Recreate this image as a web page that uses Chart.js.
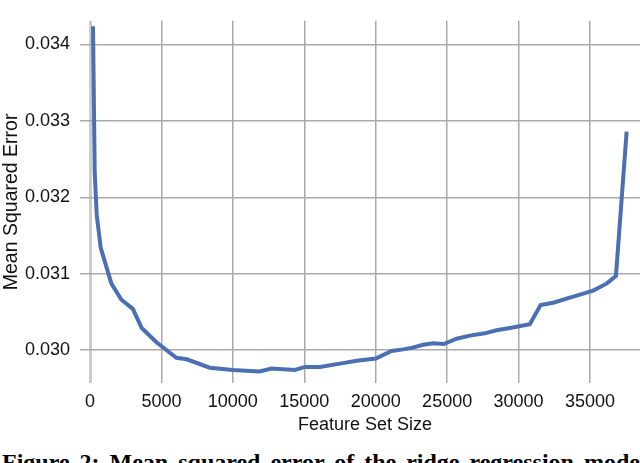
<!DOCTYPE html>
<html>
<head>
<meta charset="utf-8">
<script src="https://cdn.jsdelivr.net/npm/chart.js@4"></script>
<style>
  html, body { margin: 0; padding: 0; background: #fff; overflow: hidden; }
  #wrap { position: relative; width: 640px; height: 463px; overflow: hidden; }
  #chart { position: absolute; left: 0; top: 0; }
  #caption {
    position: absolute; left: 2px; top: 450px; white-space: nowrap;
    font-family: "Liberation Serif", "DejaVu Serif", serif; font-weight: bold;
    font-size: 24px; line-height: 1; word-spacing: 4px; color: #000;
  }
</style>
</head>
<body>
<div id="wrap">
  <canvas id="chart" width="640" height="436"></canvas>
  <div id="caption">Figure 2: Mean squared error of the ridge regression model</div>
</div>
<script>
// feature set size vs. MSE
const featureSize = [
    210, 330, 470, 750, 1500, 2200, 3000, 3620, 4670, 6050,
    6770, 8380, 9990, 11880, 12700, 14340, 15040, 16090, 17700, 18660,
    20010, 21110, 21920, 22510, 23320, 24020, 24770, 25660, 26590, 27640,
    28460, 29390, 30790, 31540, 32420, 33820, 35220, 36160, 36815, 37565
];
const mse = [
    0.03424, 0.03233, 0.03177, 0.03134, 0.03087, 0.03066, 0.03054, 0.03029, 0.03010, 0.02990,
    0.02988, 0.02977, 0.02974, 0.02972, 0.02976, 0.02974, 0.02978, 0.02978, 0.02983, 0.02986,
    0.02989, 0.02999, 0.03001, 0.03003, 0.03007, 0.03009, 0.03008, 0.03015, 0.03019, 0.03022,
    0.03026, 0.03029, 0.03034, 0.03059, 0.03062, 0.03070, 0.03078, 0.03087, 0.03097, 0.03286
];
const xTicks = [0, 5000, 10000, 15000, 20000, 25000, 30000, 35000];
const yTicks = [0.030, 0.031, 0.032, 0.033, 0.034];

const font = { family: '"Liberation Sans", Arial, sans-serif', size: 18 };

new Chart(document.getElementById('chart').getContext('2d'), {
    type: 'scatter',
    data: {
        datasets: [{
            data: featureSize.map((x, i) => ({ x: x, y: mse[i] })),
            showLine: true,
            borderColor: '#4a6fb3',
            borderWidth: 4,
            pointRadius: 0,
            tension: 0
        }]
    },
    options: {
        responsive: false,
        animation: false,
        devicePixelRatio: 1,
        layout: { padding: 0 },
        plugins: { legend: { display: false }, tooltip: { enabled: false } },
        scales: {
            x: {
                type: 'linear',
                min: 0,
                max: 38500,
                afterBuildTicks: s => { s.ticks = xTicks.map(v => ({ value: v })); },
                afterFit: s => { s.height = 53; },
                border: { display: false },
                grid: {
                    drawTicks: false,
                    color: c => c.tick && c.tick.value === 0 ? '#cdcdcd' : '#a9a9a9',
                    lineWidth: c => c.tick && c.tick.value === 0 ? 3 : 1.5
                },
                ticks: { font: font, color: '#111', padding: 8, maxRotation: 0, callback: v => String(v) },
                title: { display: true, text: 'Feature Set Size', font: font, color: '#111', padding: 0 }
            },
            y: {
                min: 0.02957,
                max: 0.03431,
                afterBuildTicks: s => { s.ticks = yTicks.map(v => ({ value: v })); },
                afterFit: s => { s.width = 90; },
                border: { display: false },
                grid: { color: '#a9a9a9', lineWidth: 1.5, tickLength: 10 },
                ticks: { font: font, color: '#111', padding: 10, callback: v => v.toFixed(3) },
                title: { display: true, text: 'Mean Squared Error', font: { ...font, size: 19.5 }, color: '#111', padding: 0 }
            }
        }
    }
});
</script>
</body>
</html>
